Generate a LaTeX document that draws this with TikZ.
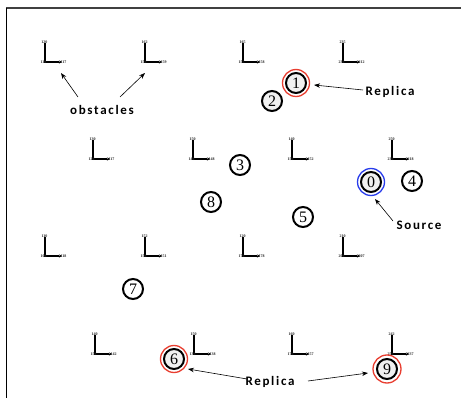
\documentclass[tikz,border=0pt]{standalone}
\usepackage{fontspec}
\setmainfont{Liberation Serif}
\newfontfamily\lblfont[LetterSpace=13]{Carlito}
\usetikzlibrary{arrows.meta}
\definecolor{ringred}{RGB}{232,62,48}
\definecolor{ringblue}{RGB}{40,60,235}
\definecolor{framegray}{RGB}{64,64,64}
\tikzset{
  lbl/.style={font=\lblfont\bfseries\fontsize{13}{13}\selectfont, inner sep=1pt},
  arr/.style={-{Stealth[length=6pt,width=4.5pt]}, line width=0.6pt},
  num/.style={circle, draw, line width=2pt, minimum size=20pt, inner sep=0pt,
    font=\fontsize{16}{16}\selectfont, fill=#1},
  num/.default=white,
  ringnode/.style={circle, draw=#1, line width=1.3pt, minimum size=27pt, inner sep=0pt, fill=white},
  tinylbl/.style={font=\bfseries\fontsize{4}{4}\selectfont, inner sep=0pt, text=black!85},
  obstline/.style={line width=2.2pt, line cap=rect}
}
\newcommand\obstacle[5]{%
  \begin{scope}[shift={(#1,#2)}]
    \draw[obstline] (0,-18) -- (0,0) -- (13,0);
    \draw[line width=0.8pt, -{Stealth[length=3pt,width=3pt]}] (12,0) -- (17,0);
    \node[tinylbl] (#1-#2-t) at (-0.5,-20) {#3};
    \node[tinylbl] (#1-#2-c) at (-1.5,0) {#4};
    \node[tinylbl] (#1-#2-e) at (18.5,0) {#5};
  \end{scope}}
\begin{document}
\begin{tikzpicture}[x=1pt,y=-1pt]
\useasboundingbox (0,0) rectangle (461,398);
% frame
\draw[framegray, line width=2pt] (6,8) -- (461,8);
\draw[black, line width=1pt] (6,8) -- (6,398);
% obstacles
\obstacle{45}{62}{120}{110}{117}
\obstacle{145}{62}{162}{150}{159}
\obstacle{243}{62}{165}{155}{158}
\obstacle{343}{62}{235}{230}{212}
\obstacle{93}{159}{130}{120}{117}
\obstacle{193}{159}{150}{140}{148}
\obstacle{292}{159}{140}{150}{152}
\obstacle{392}{159}{250}{230}{218}
\obstacle{45}{256}{110}{100}{118}
\obstacle{145}{256}{152}{150}{151}
\obstacle{243}{256}{120}{170}{178}
\obstacle{343}{256}{210}{200}{207}
\obstacle{95}{354}{140}{150}{142}
\obstacle{194}{354}{150}{130}{138}
\obstacle{292}{354}{160}{170}{157}
\obstacle{392}{354}{242}{250}{237}
% rings
\node[ringnode=ringred] (r1) at (296,83) {};
\node[ringnode=ringblue] (r0) at (371,182) {};
\node[ringnode=ringred] (r6) at (174,359) {};
\node[ringnode=ringred, minimum size=28pt] (r9) at (387,369) {};
% numbered nodes
\node[num=gray!12] (n1) at (296,83) {1};
\node[num=gray!12] (n2) at (272,101) {2};
\node[num] (n3) at (240,165) {3};
\node[num] (n8) at (211,202) {8};
\node[num=gray!12] (n0) at (371,182) {0};
\node[num] (n4) at (412,181) {4};
\node[num] (n5) at (303,217) {5};
\node[num] (n7) at (133,289) {7};
\node[num=gray!12] (n6) at (174,359) {6};
\node[num=gray!12] (n9) at (387,369) {9};
% labels
\node[lbl] (obs) at (102,110) {obstacles};
\node[lbl] (rep1) at (390,92) {Replica};
\node[lbl] (src) at (419,225) {Source};
\node[lbl] (rep2) at (270,382) {Replica};
% arrow endpoints
\coordinate (oa1) at (78,97);
\coordinate (ob1) at (61,73);
\coordinate (oa2) at (120,97);
\coordinate (ob2) at (145,73);
\coordinate (ra1) at (363,90);
\coordinate (rb1) at (314,85);
\coordinate (sa) at (393,221);
\coordinate (sb) at (375,199);
\coordinate (ra2) at (247,379);
\coordinate (rb2) at (188,369);
\coordinate (ra3) at (308,381);
\coordinate (rb3) at (368,373);
\draw[arr] (oa1) -- (ob1);
\draw[arr] (oa2) -- (ob2);
\draw[arr] (ra1) -- (rb1);
\draw[arr] (sa) -- (sb);
\draw[arr] (ra2) -- (rb2);
\draw[arr] (ra3) -- (rb3);
\end{tikzpicture}
\end{document}
